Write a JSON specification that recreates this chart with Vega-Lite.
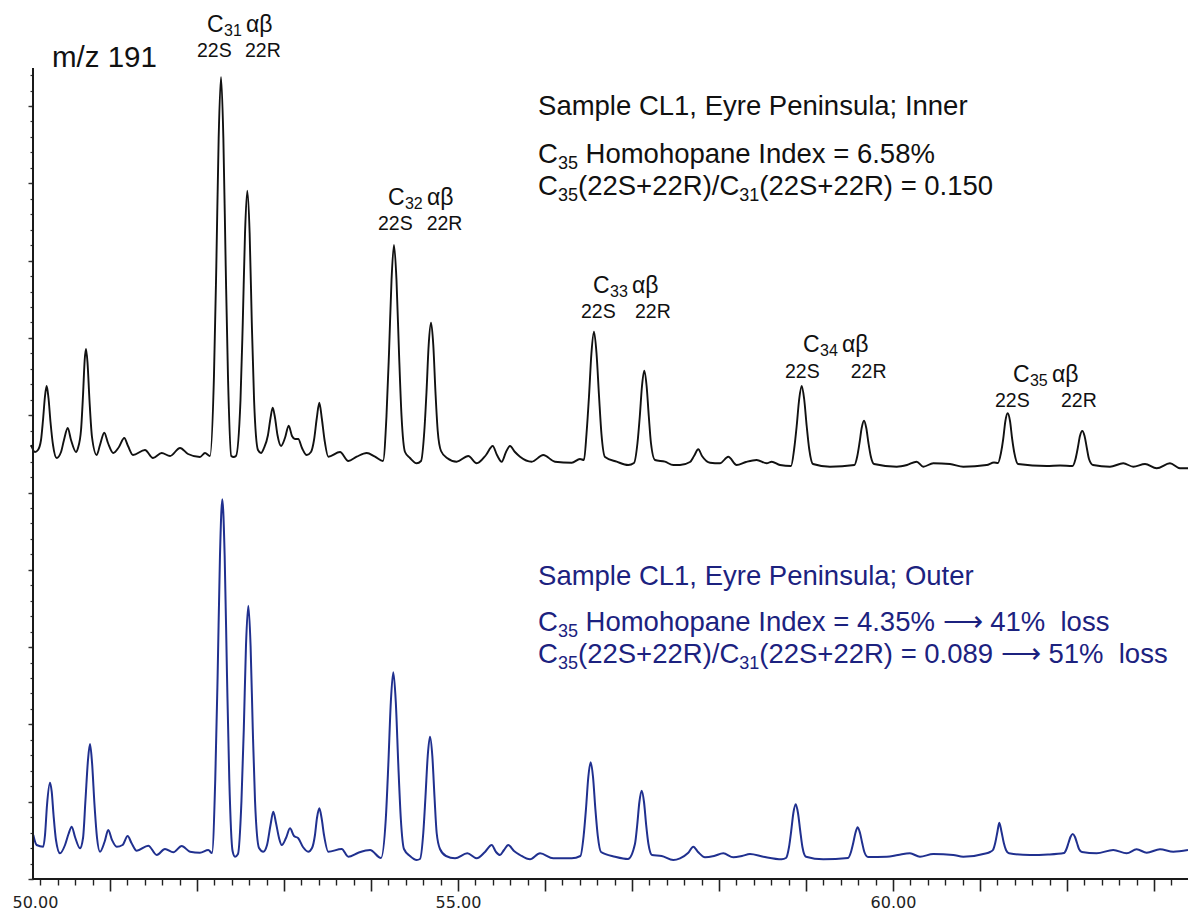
{
  "$schema": "https://vega.github.io/schema/vega-lite/v6.json",
  "width": 1188,
  "height": 879,
  "autosize": {"type": "none"},
  "padding": {"left": 0, "top": 0, "right": 0, "bottom": 32},
  "background": "white",
  "config": {"view": {"stroke": null}, "axis": {"grid": false}},
  "datasets": {
    "inner": [
      {"time":50.092,"abundance":434},{"time":50.138,"abundance":427},{"time":50.172,"abundance":429},{"time":50.207,"abundance":439},{"time":50.230,"abundance":459},{"time":50.253,"abundance":483},{"time":50.272,"abundance":493},{"time":50.293,"abundance":481},{"time":50.316,"abundance":457},{"time":50.345,"abundance":434},{"time":50.387,"abundance":421},{"time":50.437,"abundance":427},{"time":50.471,"abundance":439},{"time":50.514,"abundance":451},{"time":50.552,"abundance":439},{"time":50.609,"abundance":427},{"time":50.632,"abundance":431},{"time":50.667,"abundance":449},{"time":50.690,"abundance":484},{"time":50.709,"abundance":519},{"time":50.724,"abundance":530},{"time":50.741,"abundance":517},{"time":50.764,"abundance":479},{"time":50.793,"abundance":442},{"time":50.847,"abundance":424},{"time":50.885,"abundance":434},{"time":50.934,"abundance":446.3},{"time":50.977,"abundance":436},{"time":51.038,"abundance":426},{"time":51.103,"abundance":432},{"time":51.164,"abundance":441},{"time":51.207,"abundance":433},{"time":51.264,"abundance":424},{"time":51.402,"abundance":429},{"time":51.494,"abundance":421},{"time":51.594,"abundance":426},{"time":51.690,"abundance":423},{"time":51.805,"abundance":431},{"time":51.897,"abundance":425},{"time":52.034,"abundance":422},{"time":52.092,"abundance":426},{"time":52.149,"abundance":423},{"time":52.195,"abundance":503},{"time":52.222,"abundance":613},{"time":52.249,"abundance":741},{"time":52.276,"abundance":802},{"time":52.303,"abundance":741},{"time":52.330,"abundance":613},{"time":52.356,"abundance":503},{"time":52.394,"abundance":423},{"time":52.420,"abundance":422},{"time":52.448,"abundance":423},{"time":52.500,"abundance":479},{"time":52.526,"abundance":556},{"time":52.552,"abundance":646},{"time":52.578,"abundance":688.3},{"time":52.605,"abundance":646},{"time":52.630,"abundance":556},{"time":52.656,"abundance":479},{"time":52.701,"abundance":429},{"time":52.736,"abundance":426},{"time":52.770,"abundance":431},{"time":52.816,"abundance":444},{"time":52.845,"abundance":461},{"time":52.870,"abundance":471.3},{"time":52.897,"abundance":461},{"time":52.925,"abundance":444},{"time":52.966,"abundance":433},{"time":53.011,"abundance":441},{"time":53.054,"abundance":453.3},{"time":53.092,"abundance":443},{"time":53.126,"abundance":440},{"time":53.164,"abundance":440},{"time":53.207,"abundance":431},{"time":53.261,"abundance":424},{"time":53.310,"abundance":427},{"time":53.345,"abundance":439},{"time":53.377,"abundance":461},{"time":53.406,"abundance":476.3},{"time":53.434,"abundance":461},{"time":53.466,"abundance":439},{"time":53.509,"abundance":422.3},{"time":53.644,"abundance":427},{"time":53.739,"abundance":418},{"time":53.836,"abundance":422.3},{"time":53.951,"abundance":426},{"time":54.046,"abundance":422.3},{"time":54.138,"abundance":418},{"time":54.178,"abundance":463},{"time":54.207,"abundance":526},{"time":54.236,"abundance":599},{"time":54.264,"abundance":634},{"time":54.293,"abundance":599},{"time":54.322,"abundance":526},{"time":54.351,"abundance":463},{"time":54.391,"abundance":427},{"time":54.448,"abundance":421},{"time":54.525,"abundance":415.7},{"time":54.575,"abundance":418},{"time":54.613,"abundance":448},{"time":54.638,"abundance":487},{"time":54.663,"abundance":534},{"time":54.690,"abundance":556.3},{"time":54.716,"abundance":534},{"time":54.741,"abundance":487},{"time":54.767,"abundance":448},{"time":54.805,"abundance":428},{"time":54.874,"abundance":421},{"time":54.985,"abundance":417.3},{"time":55.118,"abundance":423},{"time":55.215,"abundance":415.7},{"time":55.322,"abundance":424},{"time":55.399,"abundance":433},{"time":55.448,"abundance":424},{"time":55.502,"abundance":417.3},{"time":55.552,"abundance":427},{"time":55.598,"abundance":433},{"time":55.655,"abundance":427},{"time":55.713,"abundance":422.3},{"time":55.847,"abundance":417.3},{"time":55.980,"abundance":424},{"time":56.115,"abundance":417.3},{"time":56.307,"abundance":416.3},{"time":56.402,"abundance":420},{"time":56.448,"abundance":419},{"time":56.477,"abundance":445},{"time":56.506,"abundance":483},{"time":56.534,"abundance":526},{"time":56.563,"abundance":547.3},{"time":56.592,"abundance":526},{"time":56.621,"abundance":483},{"time":56.649,"abundance":445},{"time":56.690,"abundance":422},{"time":56.824,"abundance":417.3},{"time":56.957,"abundance":414},{"time":57.023,"abundance":416},{"time":57.063,"abundance":436},{"time":57.090,"abundance":463},{"time":57.115,"abundance":493},{"time":57.141,"abundance":508.3},{"time":57.168,"abundance":493},{"time":57.193,"abundance":463},{"time":57.218,"abundance":436},{"time":57.264,"abundance":419},{"time":57.379,"abundance":417.3},{"time":57.475,"abundance":414},{"time":57.552,"abundance":414},{"time":57.667,"abundance":417},{"time":57.713,"abundance":423},{"time":57.762,"abundance":429.7},{"time":57.805,"abundance":423},{"time":57.897,"abundance":416.3},{"time":58.011,"abundance":415.7},{"time":58.107,"abundance":422.3},{"time":58.203,"abundance":414},{"time":58.310,"abundance":417},{"time":58.433,"abundance":419},{"time":58.548,"abundance":415.7},{"time":58.606,"abundance":417.3},{"time":58.701,"abundance":414},{"time":58.828,"abundance":413},{"time":58.864,"abundance":430},{"time":58.893,"abundance":453},{"time":58.922,"abundance":480},{"time":58.951,"abundance":493},{"time":58.979,"abundance":480},{"time":59.008,"abundance":453},{"time":59.037,"abundance":430},{"time":59.080,"abundance":415},{"time":59.276,"abundance":412.3},{"time":59.557,"abundance":414},{"time":59.590,"abundance":423},{"time":59.615,"abundance":436},{"time":59.640,"abundance":451},{"time":59.667,"abundance":458.3},{"time":59.693,"abundance":451},{"time":59.718,"abundance":436},{"time":59.744,"abundance":423},{"time":59.782,"abundance":415},{"time":60.043,"abundance":412.3},{"time":60.161,"abundance":414},{"time":60.272,"abundance":417.3},{"time":60.348,"abundance":412.3},{"time":60.463,"abundance":415.7},{"time":60.655,"abundance":415},{"time":60.808,"abundance":412.3},{"time":61.077,"abundance":414},{"time":61.161,"abundance":416.5},{"time":61.207,"abundance":416},{"time":61.241,"abundance":426},{"time":61.267,"abundance":440},{"time":61.292,"abundance":458},{"time":61.318,"abundance":465.7},{"time":61.345,"abundance":458},{"time":61.370,"abundance":440},{"time":61.395,"abundance":426},{"time":61.437,"abundance":415},{"time":61.767,"abundance":413},{"time":61.920,"abundance":413.5},{"time":62.063,"abundance":413},{"time":62.098,"abundance":420},{"time":62.124,"abundance":431},{"time":62.149,"abundance":443},{"time":62.176,"abundance":448},{"time":62.202,"abundance":443},{"time":62.228,"abundance":431},{"time":62.253,"abundance":420},{"time":62.299,"abundance":414},{"time":62.494,"abundance":412.3},{"time":62.647,"abundance":415.7},{"time":62.762,"abundance":412.3},{"time":62.897,"abundance":415},{"time":63.031,"abundance":410.7},{"time":63.184,"abundance":415.7},{"time":63.299,"abundance":410.7},{"time":63.391,"abundance":410.7}
    ],
    "outer": [
      {"time":50.118,"abundance":44},{"time":50.157,"abundance":34},{"time":50.233,"abundance":32.3},{"time":50.253,"abundance":44},{"time":50.276,"abundance":74},{"time":50.310,"abundance":96.3},{"time":50.330,"abundance":87.3},{"time":50.351,"abundance":64},{"time":50.379,"abundance":39},{"time":50.425,"abundance":25.7},{"time":50.483,"abundance":34},{"time":50.523,"abundance":45},{"time":50.560,"abundance":52.3},{"time":50.598,"abundance":42},{"time":50.655,"abundance":30.7},{"time":50.690,"abundance":41},{"time":50.718,"abundance":79},{"time":50.747,"abundance":119},{"time":50.770,"abundance":135},{"time":50.793,"abundance":117},{"time":50.822,"abundance":74},{"time":50.851,"abundance":41},{"time":50.885,"abundance":27.3},{"time":50.937,"abundance":37},{"time":50.980,"abundance":49},{"time":51.023,"abundance":39},{"time":51.077,"abundance":32.3},{"time":51.144,"abundance":34},{"time":51.203,"abundance":43},{"time":51.247,"abundance":36},{"time":51.307,"abundance":28.3},{"time":51.440,"abundance":33.3},{"time":51.537,"abundance":24},{"time":51.632,"abundance":30},{"time":51.728,"abundance":26.7},{"time":51.824,"abundance":33},{"time":51.920,"abundance":27.3},{"time":52.034,"abundance":26.3},{"time":52.130,"abundance":29},{"time":52.172,"abundance":26},{"time":52.210,"abundance":100},{"time":52.237,"abundance":203},{"time":52.264,"abundance":323},{"time":52.291,"abundance":379.7},{"time":52.318,"abundance":323},{"time":52.345,"abundance":203},{"time":52.371,"abundance":100},{"time":52.409,"abundance":28},{"time":52.437,"abundance":22.3},{"time":52.471,"abundance":25},{"time":52.511,"abundance":78},{"time":52.538,"abundance":150},{"time":52.563,"abundance":233},{"time":52.590,"abundance":273.3},{"time":52.616,"abundance":233},{"time":52.641,"abundance":150},{"time":52.667,"abundance":78},{"time":52.713,"abundance":31},{"time":52.762,"abundance":27.3},{"time":52.805,"abundance":34},{"time":52.845,"abundance":54},{"time":52.877,"abundance":67.3},{"time":52.908,"abundance":56},{"time":52.943,"abundance":41},{"time":52.974,"abundance":34},{"time":53.023,"abundance":41},{"time":53.069,"abundance":50.7},{"time":53.115,"abundance":43},{"time":53.164,"abundance":40.7},{"time":53.218,"abundance":32},{"time":53.279,"abundance":27.3},{"time":53.322,"abundance":31},{"time":53.356,"abundance":44},{"time":53.379,"abundance":61},{"time":53.406,"abundance":70.7},{"time":53.432,"abundance":61},{"time":53.460,"abundance":44},{"time":53.509,"abundance":27.3},{"time":53.663,"abundance":30},{"time":53.739,"abundance":22.3},{"time":53.854,"abundance":26.3},{"time":53.989,"abundance":29},{"time":54.115,"abundance":21},{"time":54.170,"abundance":60},{"time":54.199,"abundance":114},{"time":54.228,"abundance":177},{"time":54.256,"abundance":206.7},{"time":54.285,"abundance":177},{"time":54.314,"abundance":114},{"time":54.343,"abundance":60},{"time":54.379,"abundance":30},{"time":54.448,"abundance":23},{"time":54.525,"abundance":19},{"time":54.563,"abundance":20},{"time":54.601,"abundance":46},{"time":54.626,"abundance":82},{"time":54.652,"abundance":123},{"time":54.678,"abundance":142.3},{"time":54.705,"abundance":123},{"time":54.730,"abundance":82},{"time":54.755,"abundance":46},{"time":54.793,"abundance":30},{"time":54.862,"abundance":23},{"time":54.966,"abundance":20.7},{"time":55.107,"abundance":25.7},{"time":55.215,"abundance":20.7},{"time":55.310,"abundance":27},{"time":55.387,"abundance":34},{"time":55.437,"abundance":27},{"time":55.483,"abundance":24},{"time":55.529,"abundance":29},{"time":55.578,"abundance":34},{"time":55.644,"abundance":28},{"time":55.713,"abundance":24},{"time":55.828,"abundance":19.7},{"time":55.943,"abundance":25.7},{"time":56.095,"abundance":20.7},{"time":56.307,"abundance":20.7},{"time":56.407,"abundance":23},{"time":56.444,"abundance":43},{"time":56.471,"abundance":70},{"time":56.498,"abundance":102},{"time":56.525,"abundance":116.7},{"time":56.552,"abundance":102},{"time":56.579,"abundance":70},{"time":56.607,"abundance":43},{"time":56.644,"abundance":27},{"time":56.805,"abundance":22.3},{"time":56.954,"abundance":20},{"time":57.034,"abundance":35},{"time":57.060,"abundance":54},{"time":57.085,"abundance":77},{"time":57.111,"abundance":88.3},{"time":57.138,"abundance":77},{"time":57.163,"abundance":54},{"time":57.189,"abundance":35},{"time":57.230,"abundance":24},{"time":57.341,"abundance":23},{"time":57.475,"abundance":19},{"time":57.552,"abundance":20.7},{"time":57.644,"abundance":26},{"time":57.705,"abundance":32.3},{"time":57.759,"abundance":27},{"time":57.839,"abundance":21.7},{"time":57.943,"abundance":23},{"time":58.049,"abundance":25.7},{"time":58.164,"abundance":21.7},{"time":58.264,"abundance":23},{"time":58.356,"abundance":25},{"time":58.509,"abundance":22.3},{"time":58.721,"abundance":19.7},{"time":58.770,"abundance":21},{"time":58.805,"abundance":32},{"time":58.830,"abundance":48},{"time":58.855,"abundance":66},{"time":58.882,"abundance":74.7},{"time":58.908,"abundance":66},{"time":58.934,"abundance":48},{"time":58.959,"abundance":32},{"time":59.000,"abundance":22.3},{"time":59.199,"abundance":19.7},{"time":59.483,"abundance":21},{"time":59.517,"abundance":27},{"time":59.543,"abundance":36},{"time":59.568,"abundance":46},{"time":59.594,"abundance":51.7},{"time":59.621,"abundance":46},{"time":59.646,"abundance":36},{"time":59.671,"abundance":27},{"time":59.713,"abundance":22},{"time":59.928,"abundance":22.3},{"time":60.057,"abundance":24},{"time":60.195,"abundance":25.7},{"time":60.310,"abundance":22.3},{"time":60.463,"abundance":25},{"time":60.693,"abundance":24},{"time":60.808,"abundance":22.3},{"time":61.077,"abundance":25.7},{"time":61.115,"abundance":27},{"time":61.149,"abundance":29},{"time":61.175,"abundance":36},{"time":61.200,"abundance":47},{"time":61.222,"abundance":56.3},{"time":61.248,"abundance":47},{"time":61.274,"abundance":36},{"time":61.299,"abundance":29},{"time":61.333,"abundance":25.7},{"time":61.575,"abundance":24},{"time":61.782,"abundance":24.5},{"time":61.966,"abundance":26},{"time":61.994,"abundance":30},{"time":62.017,"abundance":36},{"time":62.040,"abundance":42},{"time":62.066,"abundance":45},{"time":62.092,"abundance":42},{"time":62.115,"abundance":36},{"time":62.138,"abundance":30},{"time":62.172,"abundance":27},{"time":62.341,"abundance":25.7},{"time":62.532,"abundance":29},{"time":62.686,"abundance":25.7},{"time":62.801,"abundance":29.7},{"time":62.916,"abundance":26.3},{"time":63.069,"abundance":29.7},{"time":63.222,"abundance":27.3},{"time":63.391,"abundance":29}
    ],
    "peakgroups": [
      {"time":52.115,"abundance":847,"carbon":"31"},
      {"time":54.195,"abundance":674,"carbon":"32"},
      {"time":56.552,"abundance":586,"carbon":"33"},
      {"time":58.966,"abundance":527,"carbon":"34"},
      {"time":61.379,"abundance":497,"carbon":"35"}
    ],
    "epimers": [
      {"time":52.0,"abundance":822,"label":"22S"},
      {"time":52.552,"abundance":822,"label":"22R"},
      {"time":54.08,"abundance":649,"label":"22S"},
      {"time":54.64,"abundance":649,"label":"22R"},
      {"time":56.414,"abundance":561,"label":"22S"},
      {"time":57.034,"abundance":561,"label":"22R"},
      {"time":58.759,"abundance":501.3,"label":"22S"},
      {"time":59.514,"abundance":501.3,"label":"22R"},
      {"time":61.172,"abundance":472.3,"label":"22S"},
      {"time":61.931,"abundance":472.3,"label":"22R"}
    ],
    "infotitle": [
      {"time":55.92,"abundance":764,"block":"Inner","label":"Sample CL1, Eyre Peninsula; Inner"},
      {"time":55.92,"abundance":294,"block":"Outer","label":"Sample CL1, Eyre Peninsula; Outer"}
    ],
    "infolines": [
      {"time":55.92,"abundance":716,"block":"Inner","line":2,"rest":"Homohopane Index = 6.58%"},
      {"time":55.92,"abundance":684,"block":"Inner","line":3,"rest":"(22S+22R) = 0.150"},
      {"time":55.92,"abundance":248,"block":"Outer","line":2,"rest":"Homohopane Index = 4.35% \u27f6 41%\u00a0 loss"},
      {"time":55.92,"abundance":216,"block":"Outer","line":3,"rest":"(22S+22R) = 0.089 \u27f6 51%\u00a0 loss"}
    ],
    "ion": [
      {"time":50.333,"abundance":812,"label":"m/z 191"}
    ]
  },
  "layer": [
    {
      "data": {"name": "inner"},
      "mark": {"type": "line", "color": "#111111", "strokeWidth": 1.9, "interpolate": "monotone"},
      "encoding": {
        "x": {"field": "time", "type": "quantitative",
              "scale": {"domain": [49.7356, 63.391], "nice": false, "zero": false},
              "axis": {"orient": "bottom", "title": null, "labels": false, "domain": false, "grid": false,
                       "values": [51,52,53,54,55,56,57,58,59,60,61,62,63],
                       "tickSize": 12, "tickWidth": 1.6, "tickColor": "#222222"}},
        "y": {"field": "abundance", "type": "quantitative",
              "scale": {"domain": [0, 879], "nice": false, "zero": false},
              "axis": {"orient": "left", "title": null, "labels": false, "domain": false, "grid": false, "offset": -33,
                       "values": [0,15.46,30.92,46.38,61.84,77.3,92.76,108.22,123.68,139.14,154.6,170.06,185.52,200.98,216.44,231.9,247.36,262.82,278.28,293.74,309.2,324.66,340.12,355.58,371.04,386.5,401.96,417.42,432.88,448.34,463.8,479.26,494.72,510.18,525.64,541.1,556.56,572.02,587.48,602.94,618.4,633.86,649.32,664.78,680.24,695.7,711.16,726.62,742.08,757.54,773,788.46,803.92],
                       "tickSize": 3, "tickWidth": 1.2, "tickColor": "#333333"}}
      }
    },
    {
      "data": {"name": "outer"},
      "mark": {"type": "line", "color": "#20308f", "strokeWidth": 2, "interpolate": "monotone"},
      "encoding": {
        "x": {"field": "time", "type": "quantitative",
              "axis": {"orient": "bottom", "title": null, "labels": false, "domain": false, "grid": false,
                       "values": [50.2,50.4,50.6,50.8,51.2,51.4,51.6,51.8,52.2,52.4,52.6,52.8,53.2,53.4,53.6,53.8,54.2,54.4,54.6,54.8,55.2,55.4,55.6,55.8,56.2,56.4,56.6,56.8,57.2,57.4,57.6,57.8,58.2,58.4,58.6,58.8,59.2,59.4,59.6,59.8,60.2,60.4,60.6,60.8,61.2,61.4,61.6,61.8,62.2,62.4,62.6,62.8,63.2],
                       "tickSize": 6, "tickWidth": 1.4, "tickColor": "#222222"}},
        "y": {"field": "abundance", "type": "quantitative",
              "axis": {"orient": "left", "title": null, "labels": false, "domain": false, "grid": false, "offset": -33,
                       "values": [0,77.3,154.6,231.9,309.2,386.5,463.8,541.1,618.4,695.7,773],
                       "tickSize": 5, "tickWidth": 1.4, "tickColor": "#333333"}}
      }
    },
    {
      "data": {"values": [{}]},
      "mark": {"type": "rule", "color": "#1a1a1a", "strokeWidth": 2},
      "encoding": {
        "x": {"datum": 50.115, "type": "quantitative", "axis": null},
        "y": {"datum": 0, "type": "quantitative", "axis": null},
        "y2": {"datum": 811}
      }
    },
    {
      "data": {"values": [{}]},
      "mark": {"type": "rule", "color": "#1a1a1a", "strokeWidth": 2},
      "encoding": {
        "x": {"datum": 50.115, "type": "quantitative", "axis": null},
        "x2": {"datum": 63.391},
        "y": {"datum": 0, "type": "quantitative", "axis": null}
      }
    },
    {
      "data": {"name": "epimers"},
      "mark": {"type": "text", "align": "left", "baseline": "alphabetic", "font": "Liberation Sans", "fontSize": 19.5, "color": "#111111"},
      "encoding": {
        "x": {"field": "time", "type": "quantitative",
              "axis": {"orient": "bottom", "title": null, "ticks": false, "tickSize": 0, "domain": false, "grid": false,
                       "values": [50, 55, 60], "format": ".2f",
                       "labelFont": "DejaVu Sans", "labelFontSize": 16, "labelColor": "#222222",
                       "labelPadding": 15, "labelFlush": 30, "labelFlushOffset": 11}},
        "y": {"field": "abundance", "type": "quantitative", "axis": null},
        "text": {"field": "label"}
      }
    },
    {
      "data": {"name": "peakgroups"},
      "mark": {"type": "text", "align": "left", "baseline": "alphabetic", "font": "Liberation Sans", "fontSize": 23, "color": "#111111", "text": "C"},
      "encoding": {
        "x": {"field": "time", "type": "quantitative", "axis": null},
        "y": {"field": "abundance", "type": "quantitative", "axis": null}
      }
    },
    {
      "data": {"name": "peakgroups"},
      "mark": {"type": "text", "align": "left", "baseline": "alphabetic", "font": "Liberation Sans", "fontSize": 16, "color": "#111111", "dx": 17, "dy": 4},
      "encoding": {
        "x": {"field": "time", "type": "quantitative", "axis": null},
        "y": {"field": "abundance", "type": "quantitative", "axis": null},
        "text": {"field": "carbon"}
      }
    },
    {
      "data": {"name": "peakgroups"},
      "mark": {"type": "text", "align": "left", "baseline": "alphabetic", "font": "Liberation Sans", "fontSize": 23, "color": "#111111", "dx": 39, "text": "\u03b1\u03b2"},
      "encoding": {
        "x": {"field": "time", "type": "quantitative", "axis": null},
        "y": {"field": "abundance", "type": "quantitative", "axis": null}
      }
    },
    {
      "data": {"name": "infotitle"},
      "mark": {"type": "text", "align": "left", "baseline": "alphabetic", "font": "Liberation Sans", "fontSize": 27.5},
      "encoding": {
        "x": {"field": "time", "type": "quantitative", "axis": null},
        "y": {"field": "abundance", "type": "quantitative", "axis": null},
        "text": {"field": "label"},
        "color": {"field": "block", "type": "nominal", "legend": null, "scale": {"domain": ["Inner", "Outer"], "range": ["#111111", "#1c227f"]}}
      }
    },
    {
      "data": {"name": "infolines"},
      "mark": {"type": "text", "align": "left", "baseline": "alphabetic", "font": "Liberation Sans", "fontSize": 27.5, "text": "C"},
      "encoding": {
        "x": {"field": "time", "type": "quantitative", "axis": null},
        "y": {"field": "abundance", "type": "quantitative", "axis": null},
        "color": {"field": "block", "type": "nominal", "legend": null}
      }
    },
    {
      "data": {"name": "infolines"},
      "mark": {"type": "text", "align": "left", "baseline": "alphabetic", "font": "Liberation Sans", "fontSize": 18, "dx": 20, "dy": 6, "text": "35"},
      "encoding": {
        "x": {"field": "time", "type": "quantitative", "axis": null},
        "y": {"field": "abundance", "type": "quantitative", "axis": null},
        "color": {"field": "block", "type": "nominal", "legend": null}
      }
    },
    {
      "data": {"name": "infolines"},
      "transform": [{"filter": "datum.line == 2"}],
      "mark": {"type": "text", "align": "left", "baseline": "alphabetic", "font": "Liberation Sans", "fontSize": 27.5, "dx": 47.5},
      "encoding": {
        "x": {"field": "time", "type": "quantitative", "axis": null},
        "y": {"field": "abundance", "type": "quantitative", "axis": null},
        "text": {"field": "rest"},
        "color": {"field": "block", "type": "nominal", "legend": null}
      }
    },
    {
      "data": {"name": "infolines"},
      "transform": [{"filter": "datum.line == 3"}],
      "mark": {"type": "text", "align": "left", "baseline": "alphabetic", "font": "Liberation Sans", "fontSize": 27.5, "dx": 40, "text": "(22S+22R)/C"},
      "encoding": {
        "x": {"field": "time", "type": "quantitative", "axis": null},
        "y": {"field": "abundance", "type": "quantitative", "axis": null},
        "color": {"field": "block", "type": "nominal", "legend": null}
      }
    },
    {
      "data": {"name": "infolines"},
      "transform": [{"filter": "datum.line == 3"}],
      "mark": {"type": "text", "align": "left", "baseline": "alphabetic", "font": "Liberation Sans", "fontSize": 18, "dx": 201.2, "dy": 6, "text": "31"},
      "encoding": {
        "x": {"field": "time", "type": "quantitative", "axis": null},
        "y": {"field": "abundance", "type": "quantitative", "axis": null},
        "color": {"field": "block", "type": "nominal", "legend": null}
      }
    },
    {
      "data": {"name": "infolines"},
      "transform": [{"filter": "datum.line == 3"}],
      "mark": {"type": "text", "align": "left", "baseline": "alphabetic", "font": "Liberation Sans", "fontSize": 27.5, "dx": 221.2},
      "encoding": {
        "x": {"field": "time", "type": "quantitative", "axis": null},
        "y": {"field": "abundance", "type": "quantitative", "axis": null},
        "text": {"field": "rest"},
        "color": {"field": "block", "type": "nominal", "legend": null}
      }
    },
    {
      "data": {"name": "ion"},
      "mark": {"type": "text", "align": "left", "baseline": "alphabetic", "font": "Liberation Sans", "fontSize": 29.5, "color": "#111111"},
      "encoding": {
        "x": {"field": "time", "type": "quantitative", "axis": null},
        "y": {"field": "abundance", "type": "quantitative", "axis": null},
        "text": {"field": "label"}
      }
    }
  ],
  "resolve": {"axis": {"x": "independent", "y": "independent"}}
}
